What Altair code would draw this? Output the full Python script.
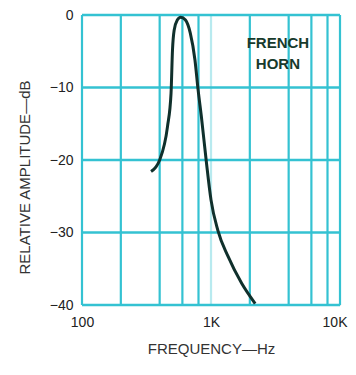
import altair as alt
import pandas as pd

# Curve
freq = [343, 400, 460, 490, 503, 518, 548, 582, 634, 691, 751, 794, 842, 917, 1000, 1130, 1356, 1728, 2200]
db = [-21.6, -20.0, -15.4, -10.8, -4.8, -2.1, -0.7, -0.3, -0.7, -2.5, -6.2, -10.3, -14.0, -20.0, -25.5, -29.7, -33.3, -37.0, -39.8]

# Grid
grid_freqs = [100, 200, 400, 600, 800, 1000, 2000, 4000, 6000, 8000, 10000]
grid_strength = [1, 1, 1, 1, 1, 0.35, 1, 1, 1, 1, 1]
grid_db = [0, -10, -20, -30, -40]

# Axis ticks
x_ticks = [100, 1000, 10000]
y_ticks = [0, -10, -20, -30, -40]

# Annotation
label_lines = ["FRENCH", "HORN"]
label_freq = [3300, 3300]
label_db = [-3.9, -6.7]

curve = pd.DataFrame({"f": freq, "db": db})
vgrid = pd.DataFrame({"f": grid_freqs, "o": grid_strength})
hgrid = pd.DataFrame({"db": grid_db})
lab = pd.DataFrame({"t": label_lines, "f": label_freq, "db": label_db})

FONT = "Liberation Sans"
GRID = "#34c2d2"

xs = alt.Scale(type="log", domain=[100, 10000], nice=False)
ys = alt.Scale(domain=[-40, 0], nice=False)

base_x = alt.X(
    "f:Q", scale=xs,
    axis=alt.Axis(
        values=x_ticks, labelExpr="datum.value >= 10000 ? '10K' : (datum.value >= 1000 ? '1K' : '100')",
        title="FREQUENCY—Hz", titleFont=FONT, titleFontSize=15, titleFontWeight="normal",
        titleColor="#333", titlePadding=12, labelFont=FONT, labelFontSize=14, labelColor="#222",
        labelPadding=10, ticks=False, domain=False, grid=False, labelOverlap=False, labelBound=False,
        labelFlush=False,
        labelAlign={"condition": {"test": "datum.value >= 10000", "value": "right"}, "value": "center"},
        labelOffset={"condition": {"test": "datum.value >= 10000", "value": 7}, "value": 0},
    ),
)

vrules = alt.Chart(vgrid).mark_rule(color=GRID, strokeWidth=2.2).encode(
    x=base_x,
    opacity=alt.Opacity("o:Q", scale=None),
)

hrules = alt.Chart(hgrid).mark_rule(color=GRID, strokeWidth=2.5).encode(
    y=alt.Y(
        "db:Q", scale=ys,
        axis=alt.Axis(
            values=y_ticks, labelExpr="datum.value == 0 ? '0' : '−' + abs(datum.value)",
            title="RELATIVE AMPLITUDE—dB", titleFont=FONT, titleFontSize=15,
            titleFontWeight="normal", titleColor="#333", titleX=-58, titleY=162,
            titleBaseline="middle", labelFont=FONT, labelFontSize=14, labelColor="#222",
            labelPadding=9, ticks=False, domain=False, grid=False,
        ),
    ),
)

line = alt.Chart(curve).mark_line(color="#10302c", strokeWidth=3, interpolate="monotone").encode(
    x=alt.X("f:Q", scale=xs),
    y=alt.Y("db:Q", scale=ys),
)

text = alt.Chart(lab).mark_text(font=FONT, fontSize=15, fontWeight="bold", color="#173a2c").encode(
    x=alt.X("f:Q", scale=xs),
    y=alt.Y("db:Q", scale=ys),
    text="t:N",
)

chart = alt.layer(vrules, hrules, line, text).properties(
    width=258, height=290,
    autosize=alt.AutoSizeParams(type="none"),
    padding={"left": 74, "top": 7, "right": 8, "bottom": 60},
).configure_view(stroke=None).configure(background="white")

chart.save("out.html", embed_options={"renderer": "svg", "actions": False})
